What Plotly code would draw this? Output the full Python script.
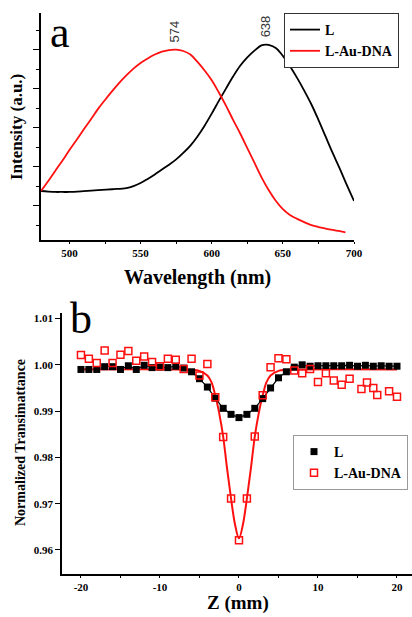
import plotly.graph_objects as go

# ---- panel a: emission spectra ----
wl_L = [480, 485, 490, 495, 500, 510, 520, 530, 540, 545, 550, 555, 560, 565,
        570, 575, 580, 585, 590, 595, 600, 605, 610, 615, 620, 625, 630, 635,
        638, 640, 645, 650, 655, 660, 665, 670, 675, 680, 685, 690, 695, 700]
int_L = [0.275, 0.272, 0.270, 0.270, 0.270, 0.274, 0.279, 0.284, 0.290, 0.300,
         0.316, 0.337, 0.360, 0.385, 0.410, 0.437, 0.470, 0.508, 0.555, 0.610,
         0.672, 0.737, 0.800, 0.862, 0.917, 0.960, 0.995, 1.022, 1.026, 1.024,
         1.008, 0.968, 0.915, 0.855, 0.790, 0.720, 0.640, 0.555, 0.470, 0.390,
         0.305, 0.224]

wl_AuDNA = [480, 485, 490, 495, 500, 505, 510, 515, 520, 525, 530, 535, 540,
            545, 550, 555, 560, 565, 570, 575, 580, 585, 590, 595, 600, 605,
            610, 615, 620, 625, 630, 635, 640, 645, 650, 655, 660, 665, 670,
            675, 680, 685, 690, 694]
int_AuDNA = [0.275, 0.325, 0.378, 0.430, 0.485, 0.537, 0.590, 0.642, 0.695,
             0.742, 0.787, 0.830, 0.868, 0.903, 0.932, 0.955, 0.975, 0.990,
             0.998, 1.000, 0.993, 0.975, 0.937, 0.893, 0.843, 0.780, 0.713,
             0.640, 0.570, 0.495, 0.420, 0.345, 0.280, 0.225, 0.182, 0.152,
             0.132, 0.115, 0.100, 0.090, 0.082, 0.075, 0.069, 0.063]

peak_wl = [574, 638]
peak_int = [1.0, 1.026]

# ---- panel b: Z-scan ----
z_L = list(range(-20, 21))
t_L = [0.9990, 0.9990, 0.9990, 0.9996, 0.9996, 0.9990, 0.9998, 0.9990, 0.9999,
       0.9994, 0.9995, 0.9994, 0.9997, 0.9993, 0.9985, 0.9970, 0.9952, 0.9928,
       0.9906, 0.9893, 0.9886, 0.9893, 0.9906, 0.9927, 0.9950, 0.9972, 0.9985,
       0.9995, 1.0000, 0.9997, 0.9998, 0.9998, 0.9998, 0.9998, 0.9999, 0.9997,
       0.9999, 0.9997, 0.9998, 0.9997, 0.9997]

z_AuDNA = [-20, -19, -18, -17, -16, -15, -14, -13, -12, -11, -10, -9, -8, -7,
           -6, -5, -4, -3, -2, -1, 0, 1, 2, 3, 4, 5, 6, 7, 8, 9, 10, 11, 12,
           13, 14, 15.5, 16.2, 17, 17.5, 19, 20]
t_AuDNA = [1.0021, 1.0013, 1.0004, 1.0031, 1.0004, 1.0022, 1.0030, 1.0009,
           1.0018, 1.0006, 0.9997, 1.0013, 1.0011, 0.9991, 1.0013, 0.9977,
           1.0002, 0.9930, 0.9844, 0.9711, 0.9621, 0.9711, 0.9845, 0.9934,
           0.9995, 1.0014, 1.0012, 0.9988, 0.9982, 0.9991, 0.9963, 0.9982,
           0.9966, 0.9957, 0.9970, 0.9948, 0.9962, 0.9950, 0.9935, 0.9943,
           0.9931]

fit_z = [-20, -8, -6, -5, -4, -3.5, -3, -2.5, -2, -1.5, -1, -0.5, 0,
         0.5, 1, 1.5, 2, 2.5, 3, 3.5, 4, 5, 6, 8, 20]
fit_t = [0.9990, 0.9990, 0.9989, 0.9987, 0.9977, 0.9963, 0.9934, 0.9895,
         0.9845, 0.9775, 0.9711, 0.9655, 0.9625, 0.9655, 0.9711, 0.9775,
         0.9845, 0.9895, 0.9934, 0.9963, 0.9977, 0.9987, 0.9989, 0.9990,
         0.9990]

xa_ticks = [500, 550, 600, 650, 700]
xb_ticks = [-20, -10, 0, 10, 20]
yb_ticks = [0.96, 0.97, 0.98, 0.99, 1.00, 1.01]

serif = "Liberation Serif"
W, H = 412, 617
red = "#ff1010"

fig = go.Figure()

fig.add_trace(go.Scatter(x=wl_L, y=int_L, mode="lines", name="<b>L</b>",
                         line=dict(color="black", width=1.8, shape="spline"),
                         xaxis="x", yaxis="y", legend="legend"))
fig.add_trace(go.Scatter(x=wl_AuDNA, y=int_AuDNA, mode="lines",
                         name="<b>L-Au-DNA</b>",
                         line=dict(color=red, width=1.8, shape="spline"),
                         xaxis="x", yaxis="y", legend="legend"))

fig.add_trace(go.Scatter(x=z_L, y=t_L, mode="lines", showlegend=False,
                         line=dict(color="black", width=1.2),
                         xaxis="x2", yaxis="y2"))
fig.add_trace(go.Scatter(x=fit_z, y=fit_t, mode="lines", showlegend=False,
                         line=dict(color=red, width=2, shape="spline"),
                         xaxis="x2", yaxis="y2"))
fig.add_trace(go.Scatter(x=z_L, y=t_L, mode="markers", name="<b>L</b>",
                         marker=dict(symbol="square", size=7, color="black"),
                         xaxis="x2", yaxis="y2", legend="legend2"))
fig.add_trace(go.Scatter(x=z_AuDNA, y=t_AuDNA, mode="markers",
                         name="<b>L-Au-DNA</b>",
                         marker=dict(symbol="square-open", size=7, color=red,
                                     line=dict(width=1.5)),
                         xaxis="x2", yaxis="y2", legend="legend2"))

for wl, it in zip(peak_wl, peak_int):
    fig.add_annotation(x=wl, y=it, xref="x", yref="y", text=str(wl),
                       textangle=-90, showarrow=False, yanchor="bottom",
                       yshift=5, font=dict(family="Liberation Sans", size=13,
                                           color="#333"))

axis_common = dict(showline=True, linecolor="black", linewidth=1.5,
                   ticks="outside", tickcolor="black", tickwidth=1.2,
                   showgrid=False, zeroline=False, mirror=False,
                   automargin=False,
                   tickfont=dict(family=serif, size=11, color="black"))


def bold(vals, fmt):
    return ["<b>" + fmt.format(v) + "</b>" for v in vals]


fig.update_layout(
    width=W, height=H, margin=dict(l=0, r=0, t=0, b=0),
    paper_bgcolor="white", plot_bgcolor="white",
    xaxis=dict(domain=[41 / W, 354 / W], anchor="y", range=[480, 700],
               tickvals=xa_ticks, ticktext=bold(xa_ticks, "{}"), ticklen=2,
               minor=dict(ticks="outside", ticklen=2, dtick=25, tick0=0,
                          tickcolor="black"),
               **axis_common),
    yaxis=dict(domain=[(H - 240) / H, (H - 13) / H], anchor="x",
               range=[0.0236, 1.188], tickvals=[0.2, 0.4, 0.6, 0.8, 1.0],
               showticklabels=False, ticklen=6,
               minor=dict(ticks="outside", ticklen=3, dtick=0.1, tick0=0,
                          tickcolor="black"),
               **axis_common),
    xaxis2=dict(domain=[62 / W, 1.0], anchor="y2", range=[-22.4, 21.9],
                tickvals=xb_ticks, ticktext=bold(xb_ticks, "{}"), ticklen=2,
                minor=dict(ticks="outside", ticklen=2, dtick=5, tick0=0,
                           tickcolor="black"),
                **axis_common),
    yaxis2=dict(domain=[(H - 574) / H, (H - 313) / H], anchor="x2",
                range=[0.9548, 1.0112],
                tickvals=yb_ticks, ticktext=bold(yb_ticks, "{:.2f}"),
                ticklen=5, **axis_common),
    legend=dict(x=284 / W, y=(H - 13) / H, xanchor="left", yanchor="top",
                bgcolor="white", bordercolor="#333", borderwidth=1,
                font=dict(family=serif, size=14, color="black"),
                itemwidth=30, tracegroupgap=0),
    legend2=dict(x=293 / W, y=(H - 435) / H, xanchor="left", yanchor="top",
                 bgcolor="white", bordercolor="#999", borderwidth=1,
                 font=dict(family=serif, size=14, color="black"),
                 itemwidth=30, tracegroupgap=0),
)

# axis titles
titles = [
    ("<b>Wavelength (nm)</b>", 197, 277, 0, 20),
    ("<b>Intensity (a.u.)</b>", 16, 127, -90, 17),
    ("<b>Z (mm)</b>", 238, 603, 0, 19),
    ("<b>Normalized Transimattance</b>", 20, 443, -90, 14),
]
for txt, px, py, ang, sz in titles:
    fig.add_annotation(x=px / W, y=(H - py) / H, xref="paper", yref="paper",
                       text=txt, textangle=ang, showarrow=False,
                       xanchor="center", yanchor="middle",
                       font=dict(family=serif, size=sz, color="black"))

# panel letters
fig.add_annotation(x=48 / W, y=(H - 6) / H, xref="paper", yref="paper",
                   text="a", showarrow=False, xanchor="left", yanchor="top",
                   font=dict(family=serif, size=44, color="black"))
fig.add_annotation(x=68 / W, y=(H - 292) / H, xref="paper", yref="paper",
                   text="b", showarrow=False, xanchor="left", yanchor="top",
                   font=dict(family=serif, size=44, color="black"))

# drop the default body margin so the figure sits at the page corner
fig.write_html("out.html", config={"displayModeBar": False},
               post_script="document.body.style.margin='0';"
                           "document.body.style.overflow='hidden';")
